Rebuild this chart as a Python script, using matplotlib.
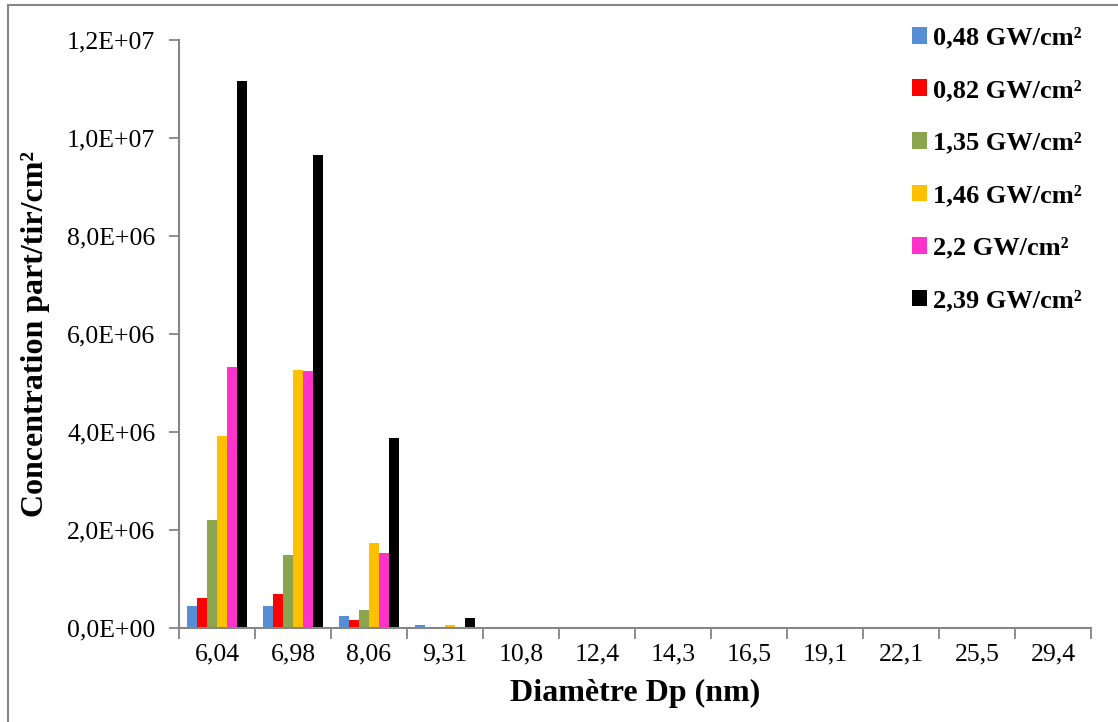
import matplotlib
matplotlib.use("Agg")
import matplotlib.pyplot as plt
import numpy as np
from matplotlib.lines import Line2D

categories = ["6,04", "6,98", "8,06", "9,31", "10,8", "12,4", "14,3", "16,5", "19,1", "22,1", "25,5", "29,4"]
series_labels = ["0,48 GW/cm²", "0,82 GW/cm²", "1,35 GW/cm²", "1,46 GW/cm²", "2,2 GW/cm²", "2,39 GW/cm²"]
s048 = [0.45e6, 0.45e6, 0.24e6, 0.07e6, 0.03e6, 0, 0, 0, 0, 0, 0, 0]
s082 = [0.61e6, 0.70e6, 0.17e6, 0, 0, 0, 0, 0, 0, 0, 0, 0]
s135 = [2.21e6, 1.50e6, 0.36e6, 0, 0, 0, 0, 0, 0, 0, 0, 0]
s146 = [3.92e6, 5.27e6, 1.73e6, 0.07e6, 0, 0, 0, 0, 0, 0, 0, 0]
s220 = [5.32e6, 5.24e6, 1.54e6, 0, 0, 0, 0, 0, 0, 0, 0, 0]
s239 = [11.16e6, 9.65e6, 3.87e6, 0.21e6, 0, 0, 0, 0, 0, 0, 0, 0]
series = [s048, s082, s135, s146, s220, s239]
colors = ["#558ED5", "#FF0000", "#8AA54E", "#FFC000", "#FF33CC", "#000000"]
yticks = [0, 2e6, 4e6, 6e6, 8e6, 10e6, 12e6]
ytick_labels = ["0,0E+00", "2,0E+06", "4,0E+06", "6,0E+06", "8,0E+06", "1,0E+07", "1,2E+07"]

plt.rcParams['font.family'] = ['Liberation Serif', 'DejaVu Serif']
fig = plt.figure(figsize=(11.18, 7.22), dpi=100)
W, H = 1118, 722
ax = fig.add_axes([179 / W, 1 - 628 / H, (1091 - 179) / W, (628 - 40) / H])

n = len(categories)
x = np.arange(n)
bw = 0.132
for i, (vals, c, lab) in enumerate(zip(series, colors, series_labels)):
    ax.bar(x + (i - 2.5) * bw, vals, width=bw, color=c, label=lab, linewidth=0)

ax.set_xlim(-0.5, n - 0.5)
ax.set_ylim(0, 12e6)
ax.set_yticks(yticks)
ax.set_yticklabels(ytick_labels, fontsize=18.5)
ax.set_xticks(x)
ax.set_xticklabels(categories, fontsize=18.5)
ax.set_xticks(np.arange(n + 1) - 0.5, minor=True)
ax.tick_params(axis='x', which='major', length=0, pad=11)
ax.tick_params(axis='x', which='minor', length=8, color='#868686', width=1.3)
ax.tick_params(axis='y', length=7, color='#868686', width=1.3, pad=10)
for s in ['top', 'right']:
    ax.spines[s].set_visible(False)
for s in ['left', 'bottom']:
    ax.spines[s].set_color('#868686')
    ax.spines[s].set_linewidth(1.5)

ax.set_xlabel("Diamètre Dp (nm)", fontsize=23, fontweight='bold', labelpad=10)
ax.set_ylabel("Concentration part/tir/cm²", fontsize=23, fontweight='bold', labelpad=12)

leg = ax.legend(loc='upper left', bbox_to_anchor=(901 / W, 1 - 16 / H), bbox_transform=fig.transFigure,
                frameon=False, prop={'weight': 'bold', 'size': 19}, handlelength=0.6, handleheight=0.6,
                handletextpad=0.2, labelspacing=1.12, borderaxespad=0)

fig.lines.append(Line2D([8 / W, 8 / W], [0, 1 - 5 / H], transform=fig.transFigure, color='#868686', linewidth=1.5))
fig.lines.append(Line2D([8 / W, 1], [1 - 5 / H, 1 - 5 / H], transform=fig.transFigure, color='#868686', linewidth=1.5))

fig.savefig("out.png", dpi=100)
